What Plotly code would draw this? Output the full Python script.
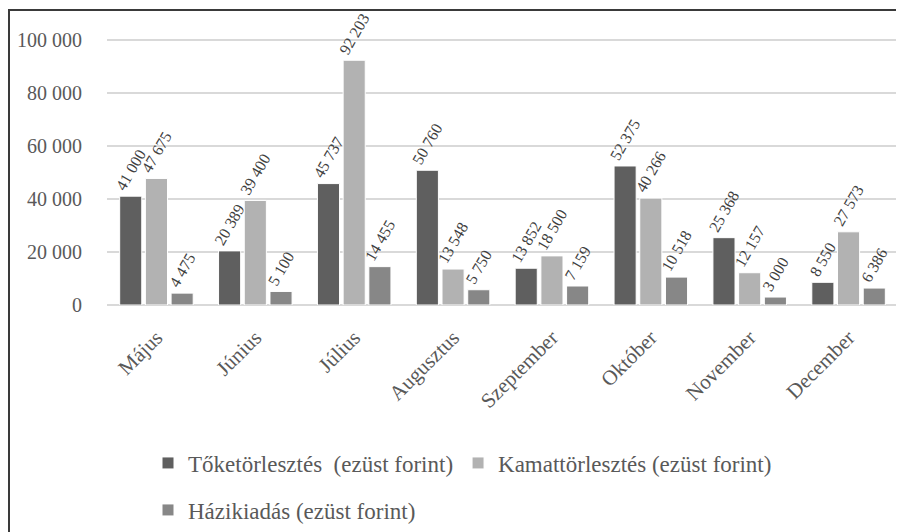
import plotly.graph_objects as go

months = ["Május", "Június", "Július", "Augusztus", "Szeptember", "Október", "November", "December"]
toke = [41000, 20389, 45737, 50760, 13852, 52375, 25368, 8550]
kamat = [47675, 39400, 92203, 13548, 18500, 40266, 12157, 27573]
hazi = [4475, 5100, 14455, 5750, 7159, 10518, 3000, 6386]
y_ticks = [0, 20000, 40000, 60000, 80000, 100000]

names = ["Tőketörlesztés  (ezüst forint)", "Kamattörlesztés (ezüst forint)", "Házikiadás (ezüst forint)"]
colors = ["#5f5f5f", "#b2b2b2", "#878787"]
series = [toke, kamat, hazi]
legends = ["legend", "legend", "legend2"]

FONT = "Liberation Serif, Times New Roman, serif"
TXT = "#595959"

fig = go.Figure()
for name, col, vals, lg in zip(names, colors, series, legends):
    fig.add_trace(go.Bar(
        x=months, y=vals, name=name,
        marker=dict(color=col, line=dict(color="#ffffff", width=1)),
        texttemplate="%{y:,}", textposition="outside", textangle=-60,
        constraintext="none", cliponaxis=False,
        textfont=dict(family=FONT, size=16, color="#404040"),
        legend=lg,
    ))

# page is offset by the 8px body margin, so the figure is 8px smaller
OFF = 8
W, H = 904 - OFF, 532 - OFF
L, R, T, B = 99, 6, 5, 227
pw, ph = W - L - R, H - T - B


def px(xp):
    return (xp - OFF - L) / pw


def py(yp):
    return (H - B - (yp - OFF)) / ph


fig.update_layout(
    width=W, height=H,
    margin=dict(l=L, r=R, t=T, b=B, autoexpand=False),
    paper_bgcolor="white", plot_bgcolor="white",
    separators=", ",
    barmode="group", bargap=0.22, bargroupgap=0.14,
    font=dict(family=FONT, size=20, color=TXT),
    xaxis=dict(tickangle=-45, ticks="outside", ticklen=11, tickcolor="rgba(0,0,0,0)",
               tickfont=dict(family=FONT, size=21, color=TXT), showgrid=False),
    yaxis=dict(range=[0, 110000], tickvals=y_ticks, tickformat=",",
               gridcolor="#d9d9d9", gridwidth=1.5, zeroline=True, zerolinecolor="#d9d9d9",
               zerolinewidth=1.5, ticklabelstandoff=24,
               tickfont=dict(family=FONT, size=20, color=TXT)),
    legend=dict(orientation="h", x=px(148), xanchor="left", y=py(463), yanchor="middle",
                font=dict(family=FONT, size=23, color=TXT), bgcolor="rgba(0,0,0,0)"),
    legend2=dict(orientation="h", x=px(148), xanchor="left", y=py(510), yanchor="middle",
                 font=dict(family=FONT, size=23, color=TXT), bgcolor="rgba(0,0,0,0)"),
    showlegend=True,
)

fig.add_shape(type="line", xref="paper", yref="paper", x0=px(8), x1=px(910), y0=py(10), y1=py(10),
              line=dict(color="#3a3a3a", width=2))
fig.add_shape(type="line", xref="paper", yref="paper", x0=px(9), x1=px(9), y0=py(10), y1=py(540),
              line=dict(color="#3a3a3a", width=2))

fig.write_html("out.html")
